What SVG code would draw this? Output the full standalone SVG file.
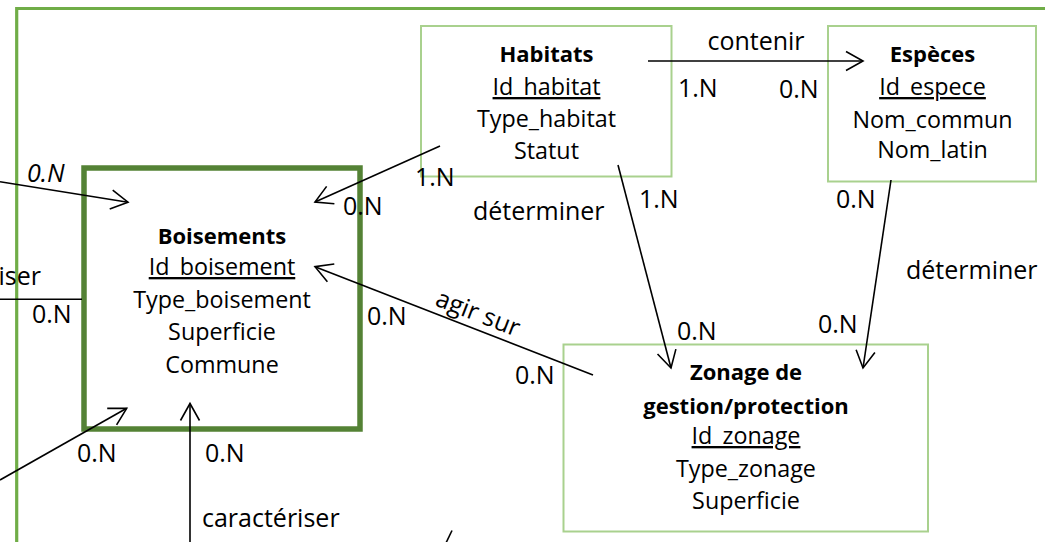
<svg xmlns="http://www.w3.org/2000/svg" width="1045" height="542" viewBox="0 0 1045 542">
  <style>
    text { font-family: "Open Sans", "Liberation Sans", Arial, sans-serif; font-size: 23.3px; fill: #000; }
    .t { text-anchor: middle; }
    .b { font-weight: bold; font-size: 22px; }
    .u { text-decoration: underline; }
    .i { font-style: italic; }
    #labels text { font-size: 25px; }
    .ent { fill: #fff; stroke: #A9D18E; stroke-width: 2; }
    .main { fill: #fff; stroke: #548235; stroke-width: 5.5; }
    .frame { fill: none; stroke: #70AD47; stroke-width: 3.2; }
    .ln { fill: none; stroke: #000; stroke-width: 1.6; }
    .arr { marker-end: url(#arrow); }
  </style>
  <defs>
    <marker id="arrow" markerUnits="userSpaceOnUse" markerWidth="24" markerHeight="24" viewBox="-20 -12 24 24" refX="0" refY="0" orient="auto" overflow="visible">
      <path d="M-17,-9.5 L0,0 L-17,9.5" fill="none" stroke="#000" stroke-width="1.6"/>
    </marker>
  </defs>
  <rect width="1045" height="542" fill="#fff"/>

  <g id="frame">
    <path class="frame" d="M16.7,548 V8.5 H1050"/>
  </g>

  <g id="boisements">
    <rect class="main" x="84" y="168" width="276" height="261"/>
    <text class="t b" x="222" y="244">Boisements</text>
    <text class="t u" x="222" y="275">Id_boisement</text>
    <text class="t" x="222" y="308">Type_boisement</text>
    <text class="t" x="222" y="340">Superficie</text>
    <text class="t" x="222" y="373">Commune</text>
  </g>

  <g id="habitats">
    <rect class="ent" x="421" y="26" width="250.5" height="150.5"/>
    <text class="t b" x="546.5" y="62">Habitats</text>
    <text class="t u" x="546.5" y="95">Id_habitat</text>
    <text class="t" x="546.5" y="127">Type_habitat</text>
    <text class="t" x="546.5" y="159">Statut</text>
  </g>

  <g id="especes">
    <rect class="ent" x="828" y="26" width="208" height="155.5"/>
    <text class="t b" x="932.5" y="62">Espèces</text>
    <text class="t u" x="932.5" y="95">Id_espece</text>
    <text class="t" x="932.5" y="127.5">Nom_commun</text>
    <text class="t" x="932.5" y="158">Nom_latin</text>
  </g>

  <g id="zonage">
    <rect class="ent" x="563.5" y="344.5" width="364.5" height="187"/>
    <text class="t b" x="746" y="380">Zonage de</text>
    <text class="t b" x="746" y="414">gestion/protection</text>
    <text class="t u" x="746" y="444">Id_zonage</text>
    <text class="t" x="746" y="477">Type_zonage</text>
    <text class="t" x="746" y="509">Superficie</text>
  </g>

  <g id="connectors">
    <line class="ln arr" x1="648" y1="61" x2="863" y2="61"/>
    <line class="ln arr" x1="440" y1="146" x2="315" y2="202"/>
    <line class="ln arr" x1="618" y1="165" x2="671" y2="368"/>
    <line class="ln arr" x1="891" y1="180" x2="863" y2="368"/>
    <line class="ln arr" x1="593" y1="375" x2="315" y2="266.7"/>
    <line class="ln arr" x1="0" y1="181.7" x2="128" y2="202.2"/>
    <line class="ln" x1="0" y1="299.3" x2="82" y2="299.3"/>
    <line class="ln arr" x1="0" y1="480" x2="126.7" y2="408.3"/>
    <line class="ln arr" x1="190" y1="545" x2="190" y2="403.5"/>
    <line class="ln" x1="445" y1="545" x2="452" y2="530.5"/>
  </g>

  <g id="labels">
    <text x="756" y="50" class="t">contenir</text>
    <text x="678" y="97">1.N</text>
    <text x="779" y="98">0.N</text>
    <text x="415" y="186">1.N</text>
    <text x="343" y="215">0.N</text>
    <text x="473" y="220">déterminer</text>
    <text x="639" y="208">1.N</text>
    <text x="836" y="208">0.N</text>
    <text x="906" y="279">déterminer</text>
    <text x="818" y="333">0.N</text>
    <text x="677" y="340">0.N</text>
    <text x="515" y="384">0.N</text>
    <text x="367" y="325">0.N</text>
    <text x="475" y="321" class="t" transform="rotate(21.3 475 321)">agir sur</text>
    <text x="27" y="182" class="i">0.N</text>
    <text x="41" y="285" style="text-anchor:end">iser</text>
    <text x="32" y="323">0.N</text>
    <text x="77" y="462">0.N</text>
    <text x="205" y="462">0.N</text>
    <text x="202" y="527">caractériser</text>
  </g>
</svg>
